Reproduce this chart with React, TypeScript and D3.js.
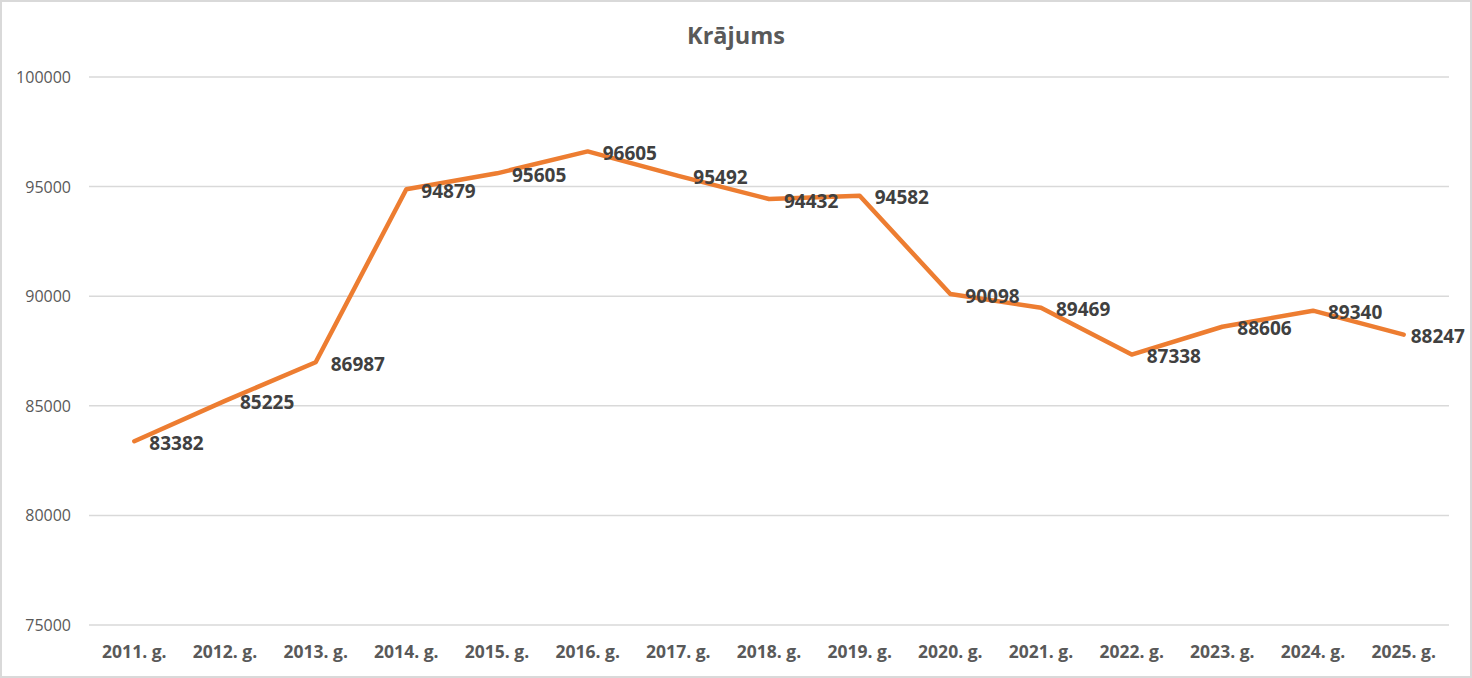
import React from "react";
import * as d3 from "d3";

const categories = ["2011. g.", "2012. g.", "2013. g.", "2014. g.", "2015. g.", "2016. g.", "2017. g.", "2018. g.", "2019. g.", "2020. g.", "2021. g.", "2022. g.", "2023. g.", "2024. g.", "2025. g."];
const values = [83382, 85225, 86987, 94879, 95605, 96605, 95492, 94432, 94582, 90098, 89469, 87338, 88606, 89340, 88247];
const yTicks = [75000, 80000, 85000, 90000, 95000, 100000];
const title = "Krājums";

export default function App() {
  const W = 1472, H = 678;
  const left = 89, right = 1449, top = 77, bottom = 625;
  const x = d3.scaleBand<string>().domain(categories).range([left, right]);
  const y = d3.scaleLinear().domain([75000, 100000]).range([bottom, top]);
  const cx = (c: string) => (x(c) ?? 0) + x.bandwidth() / 2;
  const line = d3.line<number>().x((_, i) => cx(categories[i])).y((v) => y(v));
  const font = "'Open Sans', sans-serif";
  const labelSize = 19;
  const labelW = (v: number) => String(v).length * 0.572 * labelSize;
  return (
    <svg width={W} height={H} style={{ position: "absolute", left: 0, top: 0 }} fontFamily={font}>
      <rect x={1} y={1} width={W - 2} height={H - 2} fill="#fff" stroke="#d9d9d9" strokeWidth={2} />
      <text x={736} y={35} textAnchor="middle" dominantBaseline="central" fontSize={23.5} fontWeight="bold" fill="#595959">{title}</text>
      {yTicks.map((t) => (
        <g key={t}>
          <line x1={left} x2={right} y1={y(t)} y2={y(t)} stroke="#d9d9d9" strokeWidth={1.5} />
          <text x={71} y={y(t)} textAnchor="end" dominantBaseline="central" fontSize={16} fill="#595959">{t}</text>
        </g>
      ))}
      {categories.map((c) => (
        <text key={c} x={cx(c)} y={651} textAnchor="middle" dominantBaseline="central" fontSize={17.5} fontWeight="bold" fill="#595959">{c}</text>
      ))}
      <path d={line(values) ?? ""} fill="none" stroke="#ED7D31" strokeWidth={4.5} strokeLinejoin="round" strokeLinecap="round" />
      {values.map((v, i) => (
        <text key={i} x={Math.min(cx(categories[i]) + 15, W - 7 - labelW(v))} y={y(v) + 1.5} dominantBaseline="central" fontSize={labelSize} fontWeight="bold" fill="#404040">{v}</text>
      ))}
    </svg>
  );
}
